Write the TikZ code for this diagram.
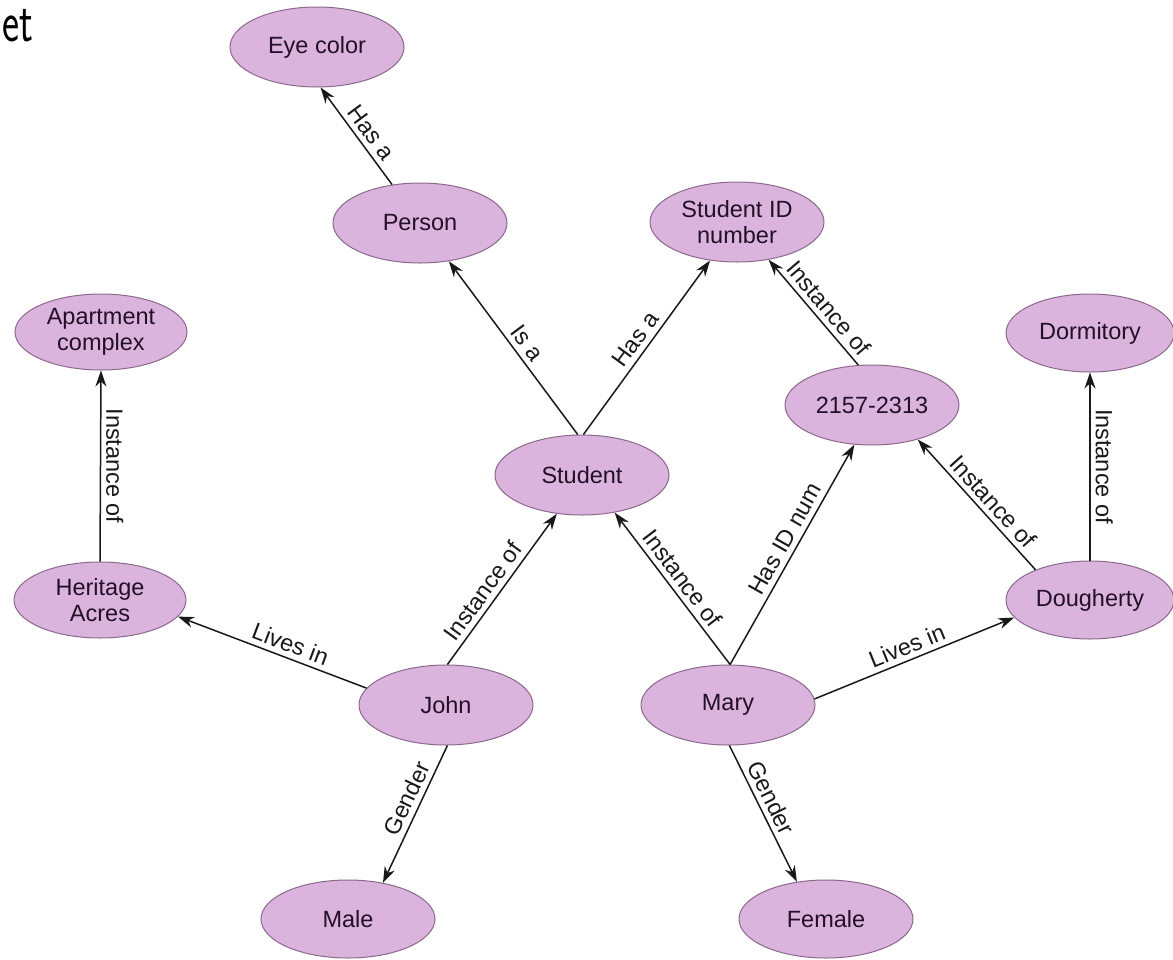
\documentclass[tikz,border=0pt]{standalone}
\usepackage{fontspec}
\setmainfont{Liberation Sans}
\usetikzlibrary{shapes.geometric,arrows.meta}
\definecolor{nodefill}{RGB}{218,180,220}
\definecolor{nodedraw}{RGB}{140,105,140}
\definecolor{nodetext}{RGB}{35,15,40}
\definecolor{edgecol}{RGB}{25,25,25}
\begin{document}
\begin{tikzpicture}[x=1pt,y=-1pt,
  concept/.style={ellipse, draw=nodedraw, fill=nodefill, line width=1pt,
    minimum width=174pt, minimum height=80pt, inner sep=0pt, align=center,
    font=\fontsize{23.5}{26}\selectfont, text=nodetext},
  rel/.style={-{Stealth[length=16pt,width=11pt]}, line width=1.5pt, draw=edgecol},
  lbl/.style={font=\fontsize{23.5}{23.5}\selectfont, text=edgecol, inner sep=5pt}
]
\useasboundingbox[fill=white] (0,0) rectangle (1173,959);
\node[anchor=base west, inner sep=0pt, font=\sffamily\fontsize{58}{58}\selectfont, xscale=0.7] (et) at (2,41) {et};

\node[concept] (eye)    at (317,47)  {Eye color};
\node[concept] (person) at (420,223) {Person};
\node[concept] (sid)    at (737,222) {Student ID\\number};
\node[concept, minimum width=172pt, minimum height=76pt] (apt) at (101,332) {Apartment\\complex};
\node[concept, minimum width=172pt, minimum height=76pt] (her) at (100,600) {Heritage\\Acres};
\node[concept] (num)    at (872,405) {2157-2313};
\node[concept, minimum width=168pt, minimum height=78pt] (dorm) at (1090,333) {Dormitory};
\node[concept, minimum width=168pt, minimum height=78pt] (dough) at (1090,600) {Dougherty};
\node[concept] (student) at (582,475) {Student};
\node[concept] (john)   at (446,705) {John};
\node[concept] (mary)   at (728,705) {Mary};
\node[concept, minimum height=78pt] (male)   at (348,919) {Male};
\node[concept, minimum height=78pt] (female) at (826,919) {Female};

\draw[rel] (person.126) -- node[lbl, sloped, above, pos=0.45] {Has a} (eye.-85);
\draw[rel] (student.96) -- node[lbl, sloped, above, pos=0.48] {Is a} (person.-53);
\draw[rel] (student.88) -- node[lbl, sloped, above, pos=0.5] {Has a} (sid.-125);
\draw[rel] (num.109) -- node[lbl, sloped, above, pos=0.45] {Instance of} (sid.-50);
\draw[rel] (dough.151) -- node[lbl, sloped, above, pos=0.45] {Instance of} (num.-37);
\draw[rel] (dough.north) -- node[lbl, rotate=-90, anchor=south, midway] {Instance of} (dorm.south);
\draw[rel] (her.north) -- node[lbl, rotate=-90, anchor=south, midway] {Instance of} (apt.south);
\draw[rel] (john.168) -- node[lbl, sloped, above, pos=0.43] {Lives in} (her.-12);
\draw[rel] (john.88) -- node[lbl, sloped, above, pos=0.43] {Instance of} (student.-123);
\draw[rel] (mary.87) -- node[lbl, sloped, above, pos=0.51] {Instance of} (student.-49);
\draw[rel] (mary.87) -- node[lbl, sloped, above, pos=0.54] {Has ID num} (num.-114);
\draw[rel] (mary.4) -- node[lbl, sloped, above, pos=0.49] {Lives in} (dough.-167);
\draw[rel] (john.-88) -- node[lbl, sloped, above, pos=0.43] {Gender} (male.46);
\draw[rel] (mary.-88) -- node[lbl, sloped, above, pos=0.43] {Gender} (female.128);
\end{tikzpicture}
\end{document}
